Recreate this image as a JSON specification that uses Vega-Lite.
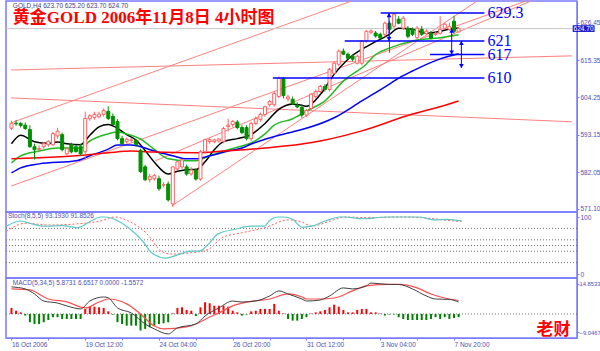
{
"$schema":"https://vega.github.io/schema/vega-lite/v6.json",
"padding":{"left":3,"right":0,"top":0,"bottom":0},
"spacing":0,
"bounds":"flush",
"background":"white",
"config":{"view":{"stroke":"#7b7bff","strokeWidth":1.5},"concat":{"spacing":0},
"axis":{"labelFont":"Liberation Sans","labelFontSize":6.5,"labelColor":"#5050b0","tickColor":"#7b7bff","domainColor":"#7b7bff","tickSize":2,"labelPadding":1,"grid":false}},
"datasets":{
"k":[
{"i":0,"o":595.1,"h":597.3,"l":594.5,"c":596.6},{"i":1,"o":596.6,"h":597.5,"l":595.8,"c":596.4},{"i":2,"o":596.5,"h":597.0,"l":595.3,"c":595.9},{"i":3,"o":596.0,"h":596.8,"l":594.6,"c":595.0},{"i":4,"o":594.7,"h":596.0,"l":589.3,"c":589.6},{"i":5,"o":589.6,"h":590.5,"l":585.8,"c":588.7},{"i":6,"o":588.8,"h":590.0,"l":588.0,"c":589.1},{"i":7,"o":589.6,"h":591.0,"l":589.0,"c":590.5},{"i":8,"o":590.2,"h":591.5,"l":589.6,"c":591.2},{"i":9,"o":590.2,"h":594.0,"l":589.8,"c":593.5},
{"i":10,"o":592.8,"h":595.2,"l":592.0,"c":594.2},{"i":11,"o":593.2,"h":593.8,"l":588.2,"c":588.7},{"i":12,"o":587.5,"h":589.4,"l":587.0,"c":589.0},{"i":13,"o":590.2,"h":590.8,"l":587.6,"c":588.1},{"i":14,"o":589.6,"h":590.2,"l":587.8,"c":588.2},{"i":15,"o":589.6,"h":590.5,"l":587.0,"c":587.5},{"i":16,"o":588.1,"h":600.0,"l":585.7,"c":598.0},{"i":17,"o":597.9,"h":599.3,"l":597.3,"c":598.8},{"i":18,"o":598.3,"h":600.0,"l":597.6,"c":599.2},{"i":19,"o":598.5,"h":600.0,"l":598.0,"c":599.3},
{"i":20,"o":599.2,"h":601.0,"l":598.6,"c":600.4},{"i":21,"o":600.1,"h":601.6,"l":597.5,"c":598.0},{"i":22,"o":598.6,"h":599.5,"l":596.0,"c":596.2},{"i":23,"o":597.1,"h":597.8,"l":591.5,"c":592.0},{"i":24,"o":592.0,"h":592.8,"l":590.2,"c":590.5},{"i":25,"o":591.1,"h":592.3,"l":590.5,"c":591.8},{"i":26,"o":591.5,"h":592.2,"l":590.8,"c":591.6},{"i":27,"o":591.5,"h":592.0,"l":589.6,"c":590.2},{"i":28,"o":588.5,"h":589.0,"l":581.8,"c":582.2},{"i":29,"o":583.6,"h":584.2,"l":579.4,"c":579.8},
{"i":30,"o":579.8,"h":581.5,"l":579.0,"c":580.7},{"i":31,"o":580.1,"h":581.5,"l":579.5,"c":581.0},{"i":32,"o":580.1,"h":581.0,"l":576.5,"c":577.1},{"i":33,"o":578.2,"h":579.0,"l":577.5,"c":578.3},{"i":34,"o":578.5,"h":579.3,"l":573.3,"c":573.8},{"i":35,"o":572.6,"h":583.8,"l":571.7,"c":583.6},{"i":36,"o":583.0,"h":585.5,"l":582.5,"c":585.1},{"i":37,"o":583.6,"h":586.0,"l":583.0,"c":585.7},{"i":38,"o":583.6,"h":584.3,"l":581.0,"c":581.5},{"i":39,"o":581.5,"h":583.5,"l":581.0,"c":582.7},
{"i":40,"o":582.7,"h":583.2,"l":579.5,"c":580.0},{"i":41,"o":580.0,"h":588.6,"l":579.5,"c":588.1},{"i":42,"o":588.1,"h":592.0,"l":587.5,"c":591.7},{"i":43,"o":591.1,"h":592.3,"l":590.5,"c":591.7},{"i":44,"o":591.1,"h":592.0,"l":590.6,"c":591.6},{"i":45,"o":591.3,"h":592.2,"l":590.8,"c":591.9},{"i":46,"o":591.1,"h":595.5,"l":590.6,"c":595.0},{"i":47,"o":595.6,"h":597.9,"l":594.1,"c":596.0},{"i":48,"o":596.2,"h":597.5,"l":595.5,"c":597.1},{"i":49,"o":596.9,"h":597.5,"l":594.8,"c":595.3},
{"i":50,"o":595.3,"h":596.0,"l":593.4,"c":593.8},{"i":51,"o":595.3,"h":596.0,"l":591.5,"c":592.0},{"i":52,"o":592.0,"h":597.0,"l":591.2,"c":596.5},{"i":53,"o":596.5,"h":598.5,"l":596.0,"c":598.0},{"i":54,"o":597.7,"h":599.8,"l":597.0,"c":599.2},{"i":55,"o":599.2,"h":601.8,"l":598.5,"c":601.5},{"i":56,"o":602.1,"h":603.5,"l":601.5,"c":603.0},{"i":57,"o":602.1,"h":606.0,"l":601.5,"c":605.4},{"i":58,"o":604.5,"h":610.5,"l":604.0,"c":609.9},{"i":59,"o":609.9,"h":610.3,"l":604.0,"c":604.8},
{"i":60,"o":603.8,"h":605.0,"l":603.0,"c":604.4},{"i":61,"o":603.7,"h":604.5,"l":602.0,"c":602.3},{"i":62,"o":601.9,"h":602.8,"l":601.0,"c":601.4},{"i":63,"o":601.3,"h":602.0,"l":598.2,"c":599.0},{"i":64,"o":599.0,"h":600.8,"l":598.5,"c":600.3},{"i":65,"o":601.0,"h":605.5,"l":600.5,"c":605.2},{"i":66,"o":604.5,"h":606.6,"l":604.0,"c":606.0},{"i":67,"o":606.0,"h":608.0,"l":605.5,"c":607.5},{"i":68,"o":607.5,"h":608.2,"l":606.0,"c":606.6},{"i":69,"o":606.6,"h":613.0,"l":606.0,"c":612.6},
{"i":70,"o":611.4,"h":615.0,"l":611.0,"c":614.4},{"i":71,"o":614.1,"h":618.5,"l":613.5,"c":618.0},{"i":72,"o":618.0,"h":618.8,"l":616.8,"c":617.1},{"i":73,"o":617.1,"h":617.6,"l":615.5,"c":615.9},{"i":74,"o":616.5,"h":617.0,"l":615.0,"c":615.6},{"i":75,"o":614.4,"h":617.0,"l":614.0,"c":616.5},{"i":76,"o":614.4,"h":621.3,"l":613.8,"c":621.0},{"i":77,"o":621.0,"h":624.3,"l":620.5,"c":623.9},{"i":78,"o":623.6,"h":624.5,"l":623.0,"c":624.0},{"i":79,"o":623.4,"h":624.0,"l":622.0,"c":622.5},
{"i":80,"o":623.0,"h":623.5,"l":621.5,"c":621.9},{"i":81,"o":623.0,"h":626.8,"l":622.3,"c":626.3},{"i":82,"o":626.3,"h":627.0,"l":617.5,"c":624.5},{"i":83,"o":625.4,"h":629.3,"l":624.8,"c":629.0},{"i":84,"o":627.5,"h":628.4,"l":626.0,"c":626.3},{"i":85,"o":624.8,"h":628.4,"l":624.3,"c":627.8},{"i":86,"o":624.8,"h":625.5,"l":621.8,"c":622.4},{"i":87,"o":624.5,"h":625.0,"l":622.5,"c":623.0},{"i":88,"o":622.0,"h":625.5,"l":621.5,"c":624.8},{"i":89,"o":624.5,"h":625.5,"l":622.5,"c":623.0},
{"i":90,"o":623.2,"h":624.5,"l":622.8,"c":623.9},{"i":91,"o":623.3,"h":624.0,"l":621.5,"c":621.9},{"i":92,"o":623.0,"h":623.8,"l":622.5,"c":623.3},{"i":93,"o":623.3,"h":628.4,"l":622.9,"c":624.5},{"i":94,"o":624.8,"h":626.5,"l":624.3,"c":626.0},{"i":95,"o":624.5,"h":626.5,"l":624.0,"c":625.4},{"i":96,"o":626.9,"h":628.5,"l":623.2,"c":623.9},{"i":97,"o":623.7,"h":625.2,"l":623.7,"c":624.7}
],
"ma":[
{"s":"a","i":0,"p":590.5},{"s":"a","i":2,"p":593.0},{"s":"a","i":5,"p":591.1},{"s":"a","i":8,"p":590.6},{"s":"a","i":10,"p":591.0},{"s":"a","i":12,"p":590.5},{"s":"a","i":15,"p":590.2},{"s":"a","i":17,"p":593.0},{"s":"a","i":19,"p":595.5},{"s":"a","i":21,"p":596.2},{"s":"a","i":22,"p":595.8},{"s":"a","i":25,"p":593.2},{"s":"a","i":27,"p":591.6},{"s":"a","i":29,"p":588.5},{"s":"a","i":31,"p":585.0},{"s":"a","i":34,"p":581.5},{"s":"a","i":36,"p":582.3},{"s":"a","i":39,"p":582.8},{"s":"a","i":40,"p":582.8},{"s":"a","i":42,"p":585.1},{"s":"a","i":44,"p":588.7},{"s":"a","i":46,"p":591.1},{"s":"a","i":49,"p":592.0},{"s":"a","i":52,"p":593.2},{"s":"a","i":55,"p":596.5},{"s":"a","i":58,"p":600.7},{"s":"a","i":61,"p":602.2},{"s":"a","i":63,"p":601.9},{"s":"a","i":64,"p":601.6},{"s":"a","i":67,"p":605.1},{"s":"a","i":70,"p":611.1},{"s":"a","i":73,"p":615.6},{"s":"a","i":78,"p":620.1},{"s":"a","i":82,"p":623.0},{"s":"a","i":84,"p":624.8},{"s":"a","i":87,"p":624.5},{"s":"a","i":90,"p":623.3},{"s":"a","i":93,"p":623.9},{"s":"a","i":96,"p":624.8},{"s":"a","i":97,"p":624.8},
{"s":"b","i":0,"p":584.8},{"s":"b","i":2,"p":586.9},{"s":"b","i":6,"p":588.3},{"s":"b","i":10,"p":589.2},{"s":"b","i":15,"p":589.2},{"s":"b","i":17,"p":591.3},{"s":"b","i":21,"p":593.4},{"s":"b","i":23,"p":594.0},{"s":"b","i":25,"p":593.4},{"s":"b","i":28,"p":591.9},{"s":"b","i":31,"p":588.8},{"s":"b","i":34,"p":586.0},{"s":"b","i":38,"p":585.4},{"s":"b","i":40,"p":585.4},{"s":"b","i":43,"p":586.9},{"s":"b","i":46,"p":588.3},{"s":"b","i":50,"p":589.8},{"s":"b","i":52,"p":590.7},{"s":"b","i":55,"p":593.4},{"s":"b","i":57,"p":596.0},{"s":"b","i":61,"p":597.9},{"s":"b","i":64,"p":600.2},{"s":"b","i":68,"p":603.2},{"s":"b","i":72,"p":609.1},{"s":"b","i":77,"p":614.2},{"s":"b","i":79,"p":617.0},{"s":"b","i":82,"p":618.9},{"s":"b","i":87,"p":621.0},{"s":"b","i":93,"p":622.0},{"s":"b","i":97,"p":622.9},
{"s":"c","i":0,"p":581.8},{"s":"c","i":2,"p":583.3},{"s":"c","i":6,"p":584.5},{"s":"c","i":14,"p":585.4},{"s":"c","i":17,"p":586.9},{"s":"c","i":21,"p":588.9},{"s":"c","i":23,"p":590.1},{"s":"c","i":26,"p":590.1},{"s":"c","i":29,"p":589.2},{"s":"c","i":31,"p":588.3},{"s":"c","i":35,"p":586.9},{"s":"c","i":38,"p":586.0},{"s":"c","i":40,"p":586.0},{"s":"c","i":43,"p":586.9},{"s":"c","i":47,"p":588.3},{"s":"c","i":50,"p":589.2},{"s":"c","i":52,"p":590.4},{"s":"c","i":55,"p":591.8},{"s":"c","i":58,"p":593.0},{"s":"c","i":61,"p":594.0},{"s":"c","i":63,"p":594.7},{"s":"c","i":70,"p":598.2},{"s":"c","i":76,"p":603.2},{"s":"c","i":82,"p":608.2},{"s":"c","i":84,"p":610.0},{"s":"c","i":87,"p":612.1},{"s":"c","i":93,"p":615.7},{"s":"c","i":97,"p":617.2},
{"s":"d","i":0,"p":586.0},{"s":"d","i":6,"p":586.3},{"s":"d","i":14,"p":586.9},{"s":"d","i":21,"p":587.8},{"s":"d","i":26,"p":588.3},{"s":"d","i":31,"p":588.0},{"s":"d","i":40,"p":587.8},{"s":"d","i":46,"p":588.3},{"s":"d","i":55,"p":589.2},{"s":"d","i":63,"p":590.4},{"s":"d","i":67,"p":591.3},{"s":"d","i":76,"p":594.3},{"s":"d","i":87,"p":599.3},{"s":"d","i":92,"p":601.1},{"s":"d","i":97,"p":603.2}
],
"tl":[
{"id":"A","i":-0.1,"p":596.7},{"id":"A","i":73.8,"p":632.9},
{"id":"B","i":-0.1,"p":604.1},{"id":"B","i":121.6,"p":597.0},
{"id":"C","i":-0.1,"p":612.4},{"id":"C","i":121.6,"p":616.6},
{"id":"D","i":34.8,"p":572.0},{"id":"D","i":101.0,"p":632.9},
{"id":"E","i":-0.1,"p":577.9},{"id":"E","i":111.6,"p":632.9},
{"id":"F","i":31.2,"p":585.4},{"id":"F","i":112.7,"p":632.9}
],
"hl":[
{"i1":80.1,"i2":102.6,"p":629.3,"t":"629.3"},
{"i1":72.3,"i2":102.6,"p":621.0,"t":"621"},
{"i1":90.8,"i2":102.6,"p":617.0,"t":"617"},
{"i1":56.7,"i2":102.6,"p":610.0,"t":"610"}
],
"ar":[
{"i":81.9,"p1":629.3,"p2":621.0},
{"i":95.5,"p1":624.7,"p2":617.0},
{"i":97.6,"p1":621.0,"p2":613.0}
],
"st":[
{"s":"k","i":0,"v":84},{"s":"k","i":3,"v":93},{"s":"k","i":5,"v":89},{"s":"k","i":8,"v":84},{"s":"k","i":12,"v":85},{"s":"k","i":15,"v":81},{"s":"k","i":18,"v":93},{"s":"k","i":20,"v":100},{"s":"k","i":21,"v":100},{"s":"k","i":23,"v":96},{"s":"k","i":26,"v":81},{"s":"k","i":29,"v":58},{"s":"k","i":31,"v":37},{"s":"k","i":34,"v":28},{"s":"k","i":37,"v":35},{"s":"k","i":39,"v":40},{"s":"k","i":41,"v":40},{"s":"k","i":43,"v":52},{"s":"k","i":45,"v":70},{"s":"k","i":49,"v":79},{"s":"k","i":52,"v":84},{"s":"k","i":55,"v":84},{"s":"k","i":56,"v":93},{"s":"k","i":58,"v":100},{"s":"k","i":59,"v":100},{"s":"k","i":61,"v":96},{"s":"k","i":63,"v":82},{"s":"k","i":65,"v":84},{"s":"k","i":68,"v":93},{"s":"k","i":71,"v":100},{"s":"k","i":72,"v":100},{"s":"k","i":76,"v":97},{"s":"k","i":81,"v":100},{"s":"k","i":88,"v":100},{"s":"k","i":91,"v":95},{"s":"k","i":94,"v":96},{"s":"k","i":97,"v":93.2},
{"s":"d","i":0,"v":75},{"s":"d","i":4,"v":89},{"s":"d","i":6,"v":88},{"s":"d","i":9,"v":86},{"s":"d","i":15,"v":88},{"s":"d","i":20,"v":93},{"s":"d","i":23,"v":100},{"s":"d","i":26,"v":93},{"s":"d","i":30,"v":70},{"s":"d","i":33,"v":40},{"s":"d","i":35,"v":35},{"s":"d","i":39,"v":37},{"s":"d","i":43,"v":43},{"s":"d","i":46,"v":64},{"s":"d","i":50,"v":72},{"s":"d","i":55,"v":81},{"s":"d","i":60,"v":95},{"s":"d","i":63,"v":91},{"s":"d","i":65,"v":84},{"s":"d","i":69,"v":93},{"s":"d","i":72,"v":100},{"s":"d","i":77,"v":99},{"s":"d","i":84,"v":100},{"s":"d","i":90,"v":98},{"s":"d","i":93,"v":95},{"s":"d","i":97,"v":91.9}
],
"md":[
{"s":"m","i":0,"v":13.4},{"s":"m","i":3,"v":12.4},{"s":"m","i":5,"v":9.9},{"s":"m","i":7,"v":6.4},{"s":"m","i":10,"v":5.4},{"s":"m","i":12,"v":4.0},{"s":"m","i":15,"v":2.5},{"s":"m","i":17,"v":6.4},{"s":"m","i":20,"v":8.4},{"s":"m","i":21,"v":8.0},{"s":"m","i":23,"v":3.0},{"s":"m","i":26,"v":0.5},{"s":"m","i":29,"v":-5.0},{"s":"m","i":31,"v":-7.4},{"s":"m","i":34,"v":-9.9},{"s":"m","i":36,"v":-6.9},{"s":"m","i":40,"v":-5.0},{"s":"m","i":42,"v":-1.0},{"s":"m","i":45,"v":3.0},{"s":"m","i":48,"v":6.4},{"s":"m","i":50,"v":5.9},{"s":"m","i":53,"v":6.4},{"s":"m","i":56,"v":8.9},{"s":"m","i":58,"v":11.4},{"s":"m","i":60,"v":9.9},{"s":"m","i":63,"v":7.4},{"s":"m","i":64,"v":6.4},{"s":"m","i":67,"v":6.9},{"s":"m","i":69,"v":8.9},{"s":"m","i":72,"v":12.9},{"s":"m","i":74,"v":12.4},{"s":"m","i":77,"v":13.9},{"s":"m","i":78,"v":15.3},{"s":"m","i":82,"v":14.6},{"s":"m","i":84,"v":14.6},{"s":"m","i":87,"v":12.4},{"s":"m","i":90,"v":8.9},{"s":"m","i":92,"v":7.4},{"s":"m","i":95,"v":7.2},{"s":"m","i":97,"v":5.9},
{"s":"s","i":0,"v":12.4},{"s":"s","i":4,"v":11.9},{"s":"s","i":8,"v":7.4},{"s":"s","i":12,"v":6.0},{"s":"s","i":16,"v":3.0},{"s":"s","i":19,"v":5.9},{"s":"s","i":21,"v":7.4},{"s":"s","i":25,"v":5.0},{"s":"s","i":28,"v":0},{"s":"s","i":31,"v":-6.0},{"s":"s","i":33,"v":-7.4},{"s":"s","i":38,"v":-6.4},{"s":"s","i":40,"v":-5.0},{"s":"s","i":43,"v":-1.5},{"s":"s","i":45,"v":0.5},{"s":"s","i":48,"v":4.0},{"s":"s","i":51,"v":5.9},{"s":"s","i":56,"v":7.4},{"s":"s","i":60,"v":9.9},{"s":"s","i":63,"v":8.4},{"s":"s","i":64,"v":7.4},{"s":"s","i":67,"v":7.4},{"s":"s","i":70,"v":7.9},{"s":"s","i":74,"v":11.4},{"s":"s","i":77,"v":13.9},{"s":"s","i":82,"v":14.6},{"s":"s","i":84,"v":14.6},{"s":"s","i":88,"v":12.9},{"s":"s","i":91,"v":9.9},{"s":"s","i":94,"v":7.9},{"s":"s","i":97,"v":6.65}
],
"hist":[
{"i":0,"v":3.0},{"i":1,"v":1.6},{"i":2,"v":0.8},{"i":3,"v":-0.8},{"i":4,"v":-4.1},{"i":5,"v":-5.0},{"i":6,"v":-5.0},{"i":7,"v":-4.1},{"i":8,"v":-3.0},{"i":9,"v":-1.6},{"i":10,"v":-1.6},{"i":11,"v":-2.5},{"i":12,"v":-2.5},{"i":13,"v":-2.5},{"i":14,"v":-2.5},{"i":15,"v":-2.5},{"i":16,"v":2.5},{"i":17,"v":3.6},{"i":18,"v":3.6},{"i":19,"v":3.3},{"i":20,"v":3.0},{"i":21,"v":1.3},{"i":22,"v":-0.3},{"i":23,"v":-4.1},{"i":24,"v":-5.0},{"i":25,"v":-5.8},{"i":26,"v":-5.8},{"i":27,"v":-5.8},{"i":28,"v":-8.2},{"i":29,"v":-7.4},{"i":30,"v":-6.6},{"i":31,"v":-5.8},{"i":32,"v":-5.0},{"i":33,"v":-4.6},{"i":34,"v":-4.1},{"i":35,"v":0.3},{"i":36,"v":3.0},{"i":37,"v":3.3},{"i":38,"v":2.0},{"i":39,"v":1.6},{"i":40,"v":-1.0},{"i":41,"v":3.3},{"i":42,"v":5.8},{"i":43,"v":5.3},{"i":44,"v":4.1},{"i":45,"v":4.1},{"i":46,"v":4.1},{"i":47,"v":3.6},{"i":48,"v":1.6},{"i":49,"v":0.8},{"i":50,"v":-0.8},{"i":51,"v":-0.3},{"i":52,"v":1.3},{"i":53,"v":1.6},{"i":54,"v":2.5},{"i":55,"v":2.5},{"i":56,"v":2.5},{"i":57,"v":5.0},{"i":58,"v":1.6},{"i":59,"v":0.3},{"i":60,"v":-2.5},{"i":61,"v":-3.3},{"i":62,"v":-3.3},{"i":63,"v":-2.5},{"i":64,"v":-1.6},{"i":65,"v":0.2},{"i":66,"v":0.8},{"i":67,"v":1.3},{"i":68,"v":2.0},{"i":69,"v":3.3},{"i":70,"v":4.6},{"i":71,"v":3.6},{"i":72,"v":2.0},{"i":73,"v":0.8},{"i":74,"v":0.8},{"i":75,"v":2.0},{"i":76,"v":2.5},{"i":77,"v":2.5},{"i":78,"v":0.8},{"i":79,"v":0.8},{"i":80,"v":0.2},{"i":81,"v":-0.8},{"i":82,"v":-0.3},{"i":83,"v":-0.3},{"i":84,"v":-1.6},{"i":85,"v":-2.5},{"i":86,"v":-3.0},{"i":87,"v":-3.0},{"i":88,"v":-3.0},{"i":89,"v":-3.0},{"i":90,"v":-3.0},{"i":91,"v":-2.5},{"i":92,"v":-1.6},{"i":93,"v":-2.5},{"i":94,"v":-1.6},{"i":95,"v":-2.5},{"i":96,"v":-2.0},{"i":97,"v":-1.56}
]
},
"vconcat":[
{
"width":571,"height":211,
"encoding":{"x":{"field":"i","type":"quantitative","scale":{"domain":[-0.1,121.6],"nice":false,"zero":false},"axis":null}},
"layer":[
{"data":{"name":"tl"},"mark":{"type":"line","clip":true,"strokeWidth":1,"color":"#ff8080"},
 "encoding":{"detail":{"field":"id"},"y":{"field":"p","type":"quantitative","scale":{"domain":[570.2,632.9],"nice":false,"zero":false},"axis":{"orient":"right","title":null,"values":[571.1,576.5,582.05,587.6,593.15,598.7,604.25,609.8,615.35,620.9,626.45,632],"format":".2f"}}}},
{"data":{"values":[{"p":624.7}]},"mark":{"type":"rule","color":"#c8c8c8","strokeWidth":1},"encoding":{"x":{"value":0},"x2":{"value":571},"y":{"field":"p","type":"quantitative","scale":{"domain":[570.2,632.9],"nice":false,"zero":false}}}},
{"data":{"name":"ma"},"mark":{"type":"line","interpolate":"monotone","strokeWidth":1.5,"clip":true},
 "encoding":{"y":{"field":"p","type":"quantitative","scale":{"domain":[570.2,632.9],"nice":false,"zero":false}},"color":{"field":"s","type":"nominal","scale":{"domain":["d","c","b","a"],"range":["#ff0000","#0000ff","#22bb22","#000000"]},"legend":null},"order":{"field":"i"}}},
{"data":{"name":"k"},"mark":{"type":"rule","strokeWidth":1},
 "encoding":{"y":{"field":"l","type":"quantitative","scale":{"domain":[570.2,632.9],"nice":false,"zero":false}},"y2":{"field":"h"},"color":{"condition":{"test":"datum.c >= datum.o","value":"#ff6060"},"value":"#009000"}}},
{"data":{"name":"k"},"mark":{"type":"bar","size":3,"strokeWidth":1},
 "encoding":{"y":{"field":"o","type":"quantitative","scale":{"domain":[570.2,632.9],"nice":false,"zero":false}},"y2":{"field":"c"},"fill":{"condition":{"test":"datum.c >= datum.o","value":"#ffffff"},"value":"#009000"},"stroke":{"condition":{"test":"datum.c >= datum.o","value":"#ff6060"},"value":"#009000"}}},
{"data":{"name":"hl"},"mark":{"type":"rule","color":"#0000ff","strokeWidth":1.5},
 "encoding":{"x":{"field":"i1","type":"quantitative"},"x2":{"field":"i2"},"y":{"field":"p","type":"quantitative","scale":{"domain":[570.2,632.9],"nice":false,"zero":false}}}},
{"data":{"name":"hl"},"mark":{"type":"text","align":"left","baseline":"middle","font":"Liberation Serif","fontSize":16,"color":"#0000ff","dx":3},
 "encoding":{"x":{"field":"i2","type":"quantitative"},"y":{"field":"p","type":"quantitative","scale":{"domain":[570.2,632.9],"nice":false,"zero":false}},"text":{"field":"t"}}},
{"data":{"name":"ar"},"mark":{"type":"rule","color":"#0000ff","strokeWidth":1},
 "encoding":{"y":{"field":"p1","type":"quantitative","scale":{"domain":[570.2,632.9],"nice":false,"zero":false}},"y2":{"field":"p2"}}},
{"data":{"name":"ar"},"mark":{"type":"point","shape":"triangle-up","filled":true,"size":22,"color":"#0000ff","opacity":1,"yOffset":2},
 "encoding":{"y":{"field":"p1","type":"quantitative","scale":{"domain":[570.2,632.9],"nice":false,"zero":false}}}},
{"data":{"name":"ar"},"mark":{"type":"point","shape":"triangle-down","filled":true,"size":22,"color":"#0000ff","opacity":1,"yOffset":-2},
 "encoding":{"y":{"field":"p2","type":"quantitative","scale":{"domain":[570.2,632.9],"nice":false,"zero":false}}}},
{"data":{"values":[{"i":0.3,"p":627.8,"t":"黄金GOLD 2006年11月8日 4小时图"}]},"mark":{"type":"text","align":"left","baseline":"middle","font":"Liberation Serif, Noto Sans CJK SC","fontSize":17,"fontWeight":"bold","color":"#ff0000"},
 "encoding":{"y":{"field":"p","type":"quantitative","scale":{"domain":[570.2,632.9],"nice":false,"zero":false}},"text":{"field":"t"}}},
{"data":{"values":[{"i":0.3,"p":631.3,"t":"GOLD,H4  623.70 625.20 623.70 624.70"}]},"mark":{"type":"text","align":"left","baseline":"middle","font":"Liberation Sans","fontSize":6.5,"color":"#404080"},
 "encoding":{"y":{"field":"p","type":"quantitative","scale":{"domain":[570.2,632.9],"nice":false,"zero":false}},"text":{"field":"t"}}},
{"data":{"values":[{"i":121.75,"i2":126.5,"p1":623.7,"p2":625.7}]},"mark":{"type":"rect","color":"#1a1ad0"},
 "encoding":{"x":{"field":"i","type":"quantitative"},"x2":{"field":"i2"},"y":{"field":"p1","type":"quantitative","scale":{"domain":[570.2,632.9],"nice":false,"zero":false}},"y2":{"field":"p2"}}},
{"data":{"values":[{"i":121.95,"p":624.7,"t":"624.70"}]},"mark":{"type":"text","align":"left","baseline":"middle","font":"Liberation Sans","fontSize":6.5,"color":"#ffffff"},
 "encoding":{"y":{"field":"p","type":"quantitative","scale":{"domain":[570.2,632.9],"nice":false,"zero":false}},"text":{"field":"t"}}}
]
},
{
"width":571,"height":66,
"encoding":{"x":{"field":"i","type":"quantitative","scale":{"domain":[-0.1,121.6],"nice":false,"zero":false},"axis":null}},
"layer":[
{"data":{"values":[{"v":80},{"v":60},{"v":50},{"v":40},{"v":20}]},"mark":{"type":"rule","color":"#707070","strokeDash":[1,2],"strokeWidth":1},
 "encoding":{"x":{"value":0},"x2":{"value":571},"y":{"field":"v","type":"quantitative","scale":{"domain":[-7,108.8],"nice":false,"zero":false},"axis":{"orient":"right","title":null,"values":[0,20,40,50,60,80,100],"format":"d"}}}},
{"data":{"name":"st"},"transform":[{"filter":"datum.s == 'd'"}],"mark":{"type":"line","interpolate":"monotone","color":"#ff6060","strokeWidth":1,"strokeDash":[2,2]},
 "encoding":{"y":{"field":"v","type":"quantitative","scale":{"domain":[-7,108.8],"nice":false,"zero":false}}}},
{"data":{"name":"st"},"transform":[{"filter":"datum.s == 'k'"}],"mark":{"type":"line","interpolate":"monotone","color":"#5cc8c8","strokeWidth":1.2},
 "encoding":{"y":{"field":"v","type":"quantitative","scale":{"domain":[-7,108.8],"nice":false,"zero":false}}}},
{"data":{"values":[{"i":0.3,"v":101,"t":"Stoch(8,5,5) 93.1930 91.8526"}]},"mark":{"type":"text","align":"left","baseline":"middle","font":"Liberation Sans","fontSize":6.5,"color":"#5050b0"},
 "encoding":{"y":{"field":"v","type":"quantitative","scale":{"domain":[-7,108.8],"nice":false,"zero":false}},"text":{"field":"t"}}}
]
},
{
"width":571,"height":60,
"encoding":{"x":{"field":"i","type":"quantitative","scale":{"domain":[-0.1,121.6],"nice":false,"zero":false},
 "axis":{"title":null,"orient":"bottom","values":[0,8,16,24,32,40,48,56,64,72,80,88,96],"labelAlign":"left","labelPadding":1,"labelExpr":"['16 Oct 2006','18 Oct 04:00','19 Oct 12:00','20 Oct 20:00','24 Oct 04:00','25 Oct 12:00','26 Oct 20:00','30 Oct 04:00','31 Oct 12:00','1 Nov 20:00','3 Nov 04:00','6 Nov 12:00','7 Nov 20:00'][datum.value/8]"}}},
"layer":[
{"data":{"values":[{"v":0}]},"mark":{"type":"rule","color":"#707070","strokeDash":[1,2],"strokeWidth":1},
 "encoding":{"x":{"value":0},"x2":{"value":571},"y":{"field":"v","type":"quantitative","scale":{"domain":[-11.9,17.8],"nice":false,"zero":false},"axis":{"orient":"right","title":null,"labelFontSize":5.8,"labelPadding":0,"values":[-9.0467,0,14.8533],"labelExpr":"datum.value == 0 ? '0.00' : format(datum.value, '.4f')"}}}},
{"data":{"name":"hist"},"mark":{"type":"bar","size":2},
 "encoding":{"y":{"field":"v","type":"quantitative","scale":{"domain":[-11.9,17.8],"nice":false,"zero":false}},"y2":{"datum":0},"color":{"condition":{"test":"datum.v >= 0","value":"#ff0000"},"value":"#008000"}}},
{"data":{"name":"md"},"transform":[{"filter":"datum.s == 's'"}],"mark":{"type":"line","interpolate":"monotone","color":"#ff5050","strokeWidth":1.2},
 "encoding":{"y":{"field":"v","type":"quantitative","scale":{"domain":[-11.9,17.8],"nice":false,"zero":false}}}},
{"data":{"name":"md"},"transform":[{"filter":"datum.s == 'm'"}],"mark":{"type":"line","interpolate":"monotone","color":"#404040","strokeWidth":1},
 "encoding":{"y":{"field":"v","type":"quantitative","scale":{"domain":[-11.9,17.8],"nice":false,"zero":false}}}},
{"data":{"values":[{"i":0.3,"v":15.2,"t":"MACD(5,34,5) 5.8731 6.6517 0.0000 -1.5572"}]},"mark":{"type":"text","align":"left","baseline":"middle","font":"Liberation Sans","fontSize":6.5,"color":"#5050b0"},
 "encoding":{"y":{"field":"v","type":"quantitative","scale":{"domain":[-11.9,17.8],"nice":false,"zero":false}},"text":{"field":"t"}}},
{"data":{"values":[{"i":117.6,"v":-8.0,"t":"老财"}]},"mark":{"type":"text","align":"center","baseline":"middle","font":"Noto Sans CJK SC","fontSize":17,"fontWeight":"bold","color":"#ff0000"},
 "encoding":{"y":{"field":"v","type":"quantitative","scale":{"domain":[-11.9,17.8],"nice":false,"zero":false}},"text":{"field":"t"}}}
]
}
]
}
